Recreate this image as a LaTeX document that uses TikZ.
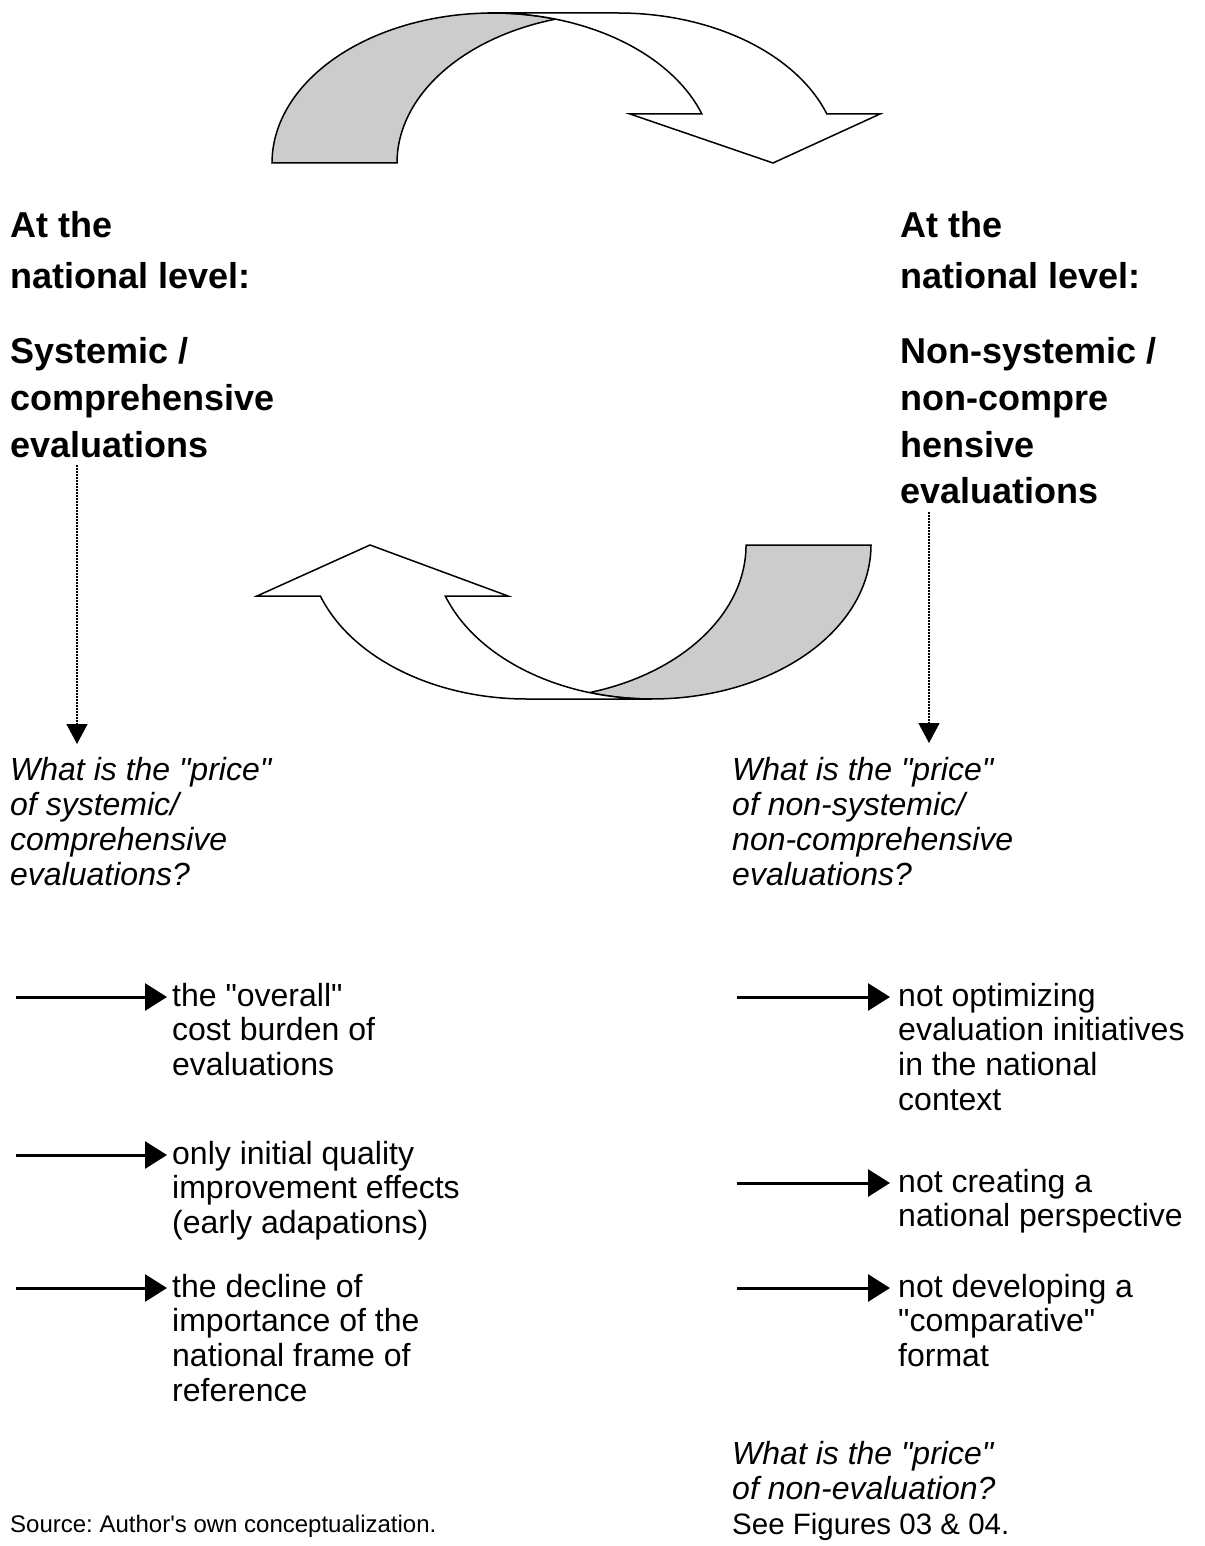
\documentclass[tikz,border=0pt]{standalone}
\usepackage{fontspec}
\newfontfamily\arial{Liberation Sans}
\usetikzlibrary{arrows.meta}
\definecolor{ribbon}{RGB}{204,204,204}
\frenchspacing
% left-aligned block of lines whose baseline is that of its first line
\newcommand{\txtlines}[1]{\begin{tabular}[t]{@{}l@{}}#1\end{tabular}}

\begin{document}
\begin{tikzpicture}[x=1pt,y=1pt,
  heading/.style={anchor=base west, inner sep=0pt, font=\arial\bfseries\fontsize{36}{46.5}\selectfont},
  question/.style={anchor=base west, inner sep=0pt, font=\arial\itshape\fontsize{32}{35}\selectfont},
  item/.style={anchor=base west, inner sep=0pt, font=\arial\fontsize{32}{34.7}\selectfont},
  note/.style={anchor=base west, inner sep=0pt, font=\arial\fontsize{24}{28}\selectfont},
  band/.style={draw=black, line width=1.5pt, line join=miter},
  pointer/.style={line width=3pt, -{Triangle[length=22pt,width=27pt]}},
  dotlink/.style={line width=1.5pt, dash pattern=on 1.5pt off 1.5pt, -{Triangle[length=20pt,width=21pt]}},
]
\fill[white] (0,0) rectangle (1204,-1546);
\path[use as bounding box] (0,0) rectangle (1204,-1546);

% upper curved arrow: shaded back of the ribbon, then the white front with its head
\draw[band, fill=ribbon] (272,-163)
  arc[start angle=180, end angle=73.57, x radius=221, y radius=150]
  arc[start angle=106.43, end angle=180, x radius=221, y radius=150] -- cycle;
\draw[band, fill=white] (493,-13) -- (618,-13)
  arc[start angle=90, end angle=19.07, x radius=221, y radius=150]
  -- (880,-114) -- (773,-163) -- (630,-114) -- (701.9,-114)
  arc[start angle=19.07, end angle=90, x radius=221, y radius=150] -- cycle;

% lower curved arrow
\draw[band, fill=ribbon] (871,-545)
  arc[start angle=0, end angle=-106.58, x radius=219, y radius=154]
  arc[start angle=-73.42, end angle=0, x radius=219, y radius=154] -- cycle;
\draw[band, fill=white] (652,-699) -- (527,-699)
  arc[start angle=-90, end angle=-160.66, x radius=219, y radius=154]
  -- (257,-596) -- (370,-545) -- (508,-596) -- (445.3,-596)
  arc[start angle=-160.66, end angle=-90, x radius=219, y radius=154] -- cycle;

% headings
\node[heading] (lhead) at (10,-237) {\txtlines{At the\\[5pt]national level:\\[29pt]Systemic /\\comprehensive\\evaluations}};
\node[heading] (rhead) at (900,-237) {\txtlines{At the\\[5pt]national level:\\[29pt]Non-systemic /\\non-compre\\hensive\\evaluations}};

% questions
\node[question] (lq) at (10,-780) {\txtlines{What is the "price"\\of systemic/\\comprehensive\\evaluations?}};
\node[question] (rq) at (732,-780) {\txtlines{What is the "price"\\of non-systemic/\\non-comprehensive\\evaluations?}};

% dotted links from headings to questions
\coordinate (ld0) at (77,-465);
\coordinate (ld1) at (77,-744);
\coordinate (rd0) at (929,-512);
\coordinate (rd1) at (929,-743);
\draw[dotlink] (ld0) -- (ld1);
\draw[dotlink] (rd0) -- (rd1);

% consequences, left column
\node[item] (l1) at (172,-1006) {\txtlines{the "overall"\\cost burden of\\evaluations}};
\node[item] (l2) at (172,-1164) {\txtlines{only initial quality\\improvement effects\\(early adapations)}};
\node[item] (l3) at (172,-1297) {\txtlines{the decline of\\importance of the\\national frame of\\reference}};
\coordinate (la1) at (16,-997);  \coordinate (lb1) at (167,-997);
\coordinate (la2) at (16,-1155); \coordinate (lb2) at (167,-1155);
\coordinate (la3) at (16,-1288); \coordinate (lb3) at (167,-1288);
\draw[pointer] (la1) -- (lb1);
\draw[pointer] (la2) -- (lb2);
\draw[pointer] (la3) -- (lb3);

% consequences, right column
\node[item] (r1) at (898,-1006) {\txtlines{not optimizing\\evaluation initiatives\\in the national\\context}};
\node[item] (r2) at (898,-1192) {\txtlines{not creating a\\national perspective}};
\node[item] (r3) at (898,-1297) {\txtlines{not developing a\\"comparative"\\format}};
\coordinate (ra1) at (737,-997);  \coordinate (rb1) at (890,-997);
\coordinate (ra2) at (737,-1183); \coordinate (rb2) at (890,-1183);
\coordinate (ra3) at (737,-1288); \coordinate (rb3) at (890,-1288);
\draw[pointer] (ra1) -- (rb1);
\draw[pointer] (ra2) -- (rb2);
\draw[pointer] (ra3) -- (rb3);

% closing question, cross-reference and source line
\node[question] (rq2) at (732,-1464) {\txtlines{What is the "price"\\of non-evaluation?\\\upshape\fontsize{29.5}{35}\selectfont See Figures 03 \& 04.}};
\node[note] (src) at (10,-1532) {Source: Author's own conceptualization.};
\end{tikzpicture}
\end{document}
